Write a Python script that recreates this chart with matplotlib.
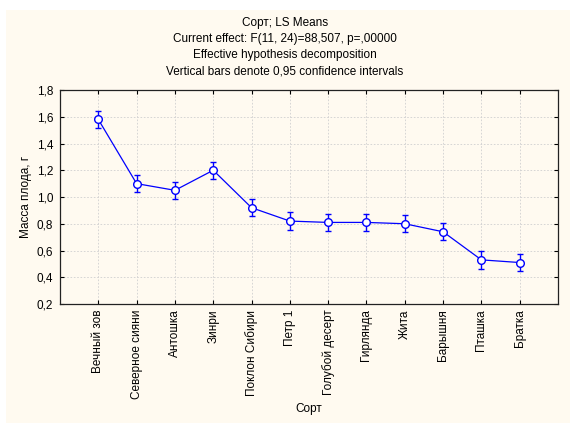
import matplotlib
matplotlib.use('Agg')
import matplotlib.pyplot as plt
from matplotlib.ticker import FuncFormatter
from matplotlib.patches import Rectangle

# LS means of fruit mass per variety, with 0,95 confidence half-widths
varieties = ['Вечный зов', 'Северное сияни', 'Антошка', 'Зинри', 'Поклон Сибири',
             'Петр 1', 'Голубой десерт', 'Гирлянда', 'Жита', 'Барышня',
             'Пташка', 'Братка']
means = [1.58, 1.10, 1.05, 1.20, 0.92, 0.82, 0.81, 0.81, 0.80, 0.74, 0.53, 0.51]
ci = [0.066, 0.065, 0.065, 0.065, 0.065, 0.065, 0.065, 0.065, 0.065, 0.065, 0.065, 0.065]

title_lines = ['Сорт; LS Means',
               'Current effect: F(11, 24)=88,507, p=,00000',
               'Effective hypothesis decomposition',
               'Vertical bars denote 0,95 confidence intervals']

cream = '#fffaf0'
blue = '#0000ff'
fs = 8.5

plt.rcParams['font.family'] = ['Liberation Sans', 'DejaVu Sans']

fig = plt.figure(figsize=(5.7, 4.23), dpi=100, facecolor='white')
# cream panel (white strip on the top and left, like the screenshot)
fig.patches.append(Rectangle((6 / 570, 0), 1, 1 - 10 / 423, transform=fig.transFigure,
                             facecolor=cream, edgecolor='none', zorder=-1))

ax = fig.add_axes([60 / 570, 1 - 304 / 423, 498 / 570, 214 / 423])
ax.set_facecolor(cream)

x = list(range(len(varieties)))
ax.errorbar(x, means, yerr=ci, color=blue, lw=0.9, elinewidth=1.0, capsize=2.5,
            capthick=1.0, marker='o', ms=5.5, mfc='white', mec=blue, mew=1.0, zorder=3)

ax.set_xlim(-1, 12)
ax.set_ylim(0.2, 1.8)
ax.set_yticks([0.2, 0.4, 0.6, 0.8, 1.0, 1.2, 1.4, 1.6, 1.8])
ax.yaxis.set_major_formatter(FuncFormatter(lambda v, p: ('%.1f' % v).replace('.', ',')))
ax.set_xticks(x)
ax.set_xticklabels(varieties, rotation=90, fontsize=fs)
ax.tick_params(axis='y', labelsize=fs, pad=5)
ax.tick_params(axis='x', pad=4)
ax.tick_params(direction='in', length=3, width=0.8, top=True, right=True)

ax.grid(True, color='#d0d0d0', lw=0.6, ls=(0, (2, 2)))
ax.set_axisbelow(True)
for s in ax.spines.values():
    s.set_linewidth(0.9)
    s.set_color('#222222')

ax.set_ylabel('Масса плода, г', fontsize=fs, labelpad=3)
ax.set_xlabel('Сорт', fontsize=fs, labelpad=3)

for i, line in enumerate(title_lines):
    fig.text(0.5, 1 - (23 + 16 * i) / 423, line, ha='center', va='center', fontsize=fs)

fig.savefig('out.png', dpi=100, facecolor=fig.get_facecolor())
